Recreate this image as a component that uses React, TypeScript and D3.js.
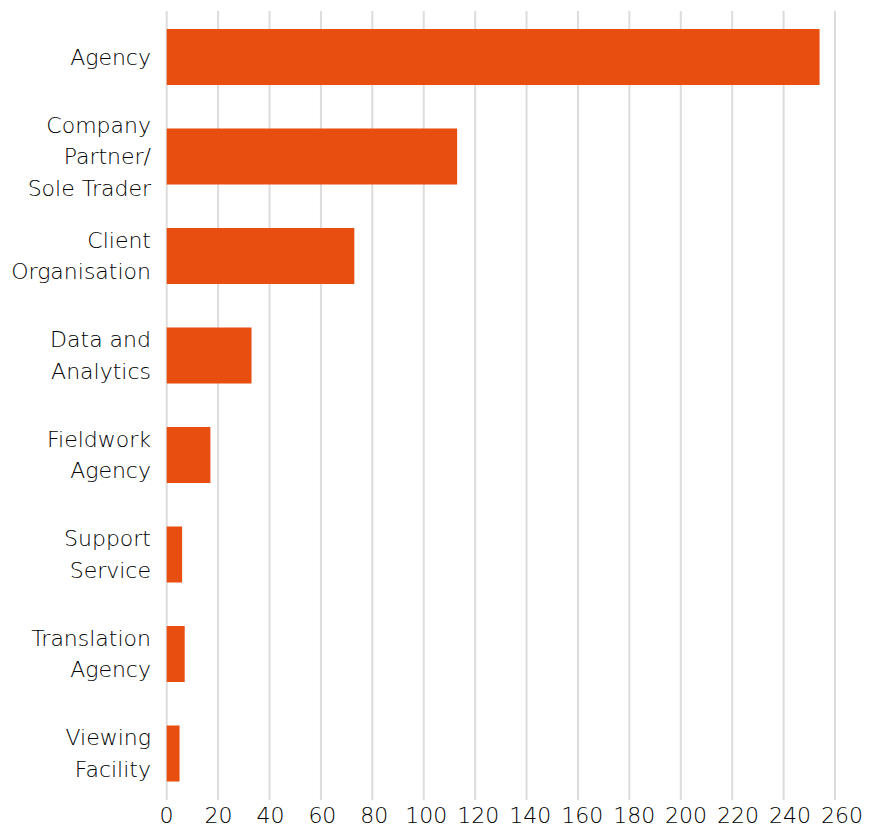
import React from "react";
import * as d3 from "d3";

const categories: string[][] = [
  ["Agency"],
  ["Company", "Partner/", "Sole Trader"],
  ["Client", "Organisation"],
  ["Data and", "Analytics"],
  ["Fieldwork", "Agency"],
  ["Support", "Service"],
  ["Translation", "Agency"],
  ["Viewing", "Facility"],
];
const values: number[] = [254, 113, 73, 33, 17, 6, 7, 5];
const tickValues: number[] = [0, 20, 40, 60, 80, 100, 120, 140, 160, 180, 200, 220, 240, 260];

const W = 882;
const H = 829;
const left = 166.7;
const right = 835;
const top = 7.25;
const bottom = 803.25;
const FONT = "'DejaVu Sans', sans-serif";

export default function App() {
  const x = d3.scaleLinear().domain([0, 260]).range([left, right]);
  const xLabel = d3.scaleLinear().domain([0, 260]).range([166.5, 842]);
  const keys = categories.map((_, i) => String(i));
  const y = d3
    .scaleBand<string>()
    .domain(keys)
    .range([top, bottom])
    .paddingInner(0.437)
    .paddingOuter(0.2185);
  const lineH = 31.5;
  return (
    <svg
      width={W}
      height={H}
      style={{ position: "absolute", left: 0, top: 0, display: "block", background: "#fff" }}
    >
      {tickValues.map((t) => (
        <line
          key={"g" + t}
          x1={x(t)}
          x2={x(t)}
          y1={11}
          y2={800}
          stroke="#dcdcdc"
          strokeWidth={2}
        />
      ))}
      {values.map((v, i) => (
        <rect
          key={"b" + i}
          x={x(0)}
          y={y(keys[i])!}
          width={x(v) - x(0)}
          height={y.bandwidth()}
          fill="#E84E0F"
        />
      ))}
      {categories.map((lines, i) => {
        const cy = y(keys[i])! + y.bandwidth() / 2;
        const start = cy - ((lines.length - 1) * lineH) / 2;
        return (
          <text
            key={"l" + i}
            textAnchor="end"
            fontFamily={FONT}
            fontSize={22}
            fontWeight={300}
            fill="#000"
          >
            {lines.map((ln, j) => (
              <tspan key={j} x={151} y={start + j * lineH} dy="0.35em">
                {ln}
              </tspan>
            ))}
          </text>
        );
      })}
      {tickValues.map((t) => (
        <text
          key={"t" + t}
          x={xLabel(t)}
          y={815.5}
          dy="0.36em"
          textAnchor="middle"
          fontFamily={FONT}
          fontSize={22}
          fontWeight={300}
          fill="#000"
        >
          {t}
        </text>
      ))}
    </svg>
  );
}
